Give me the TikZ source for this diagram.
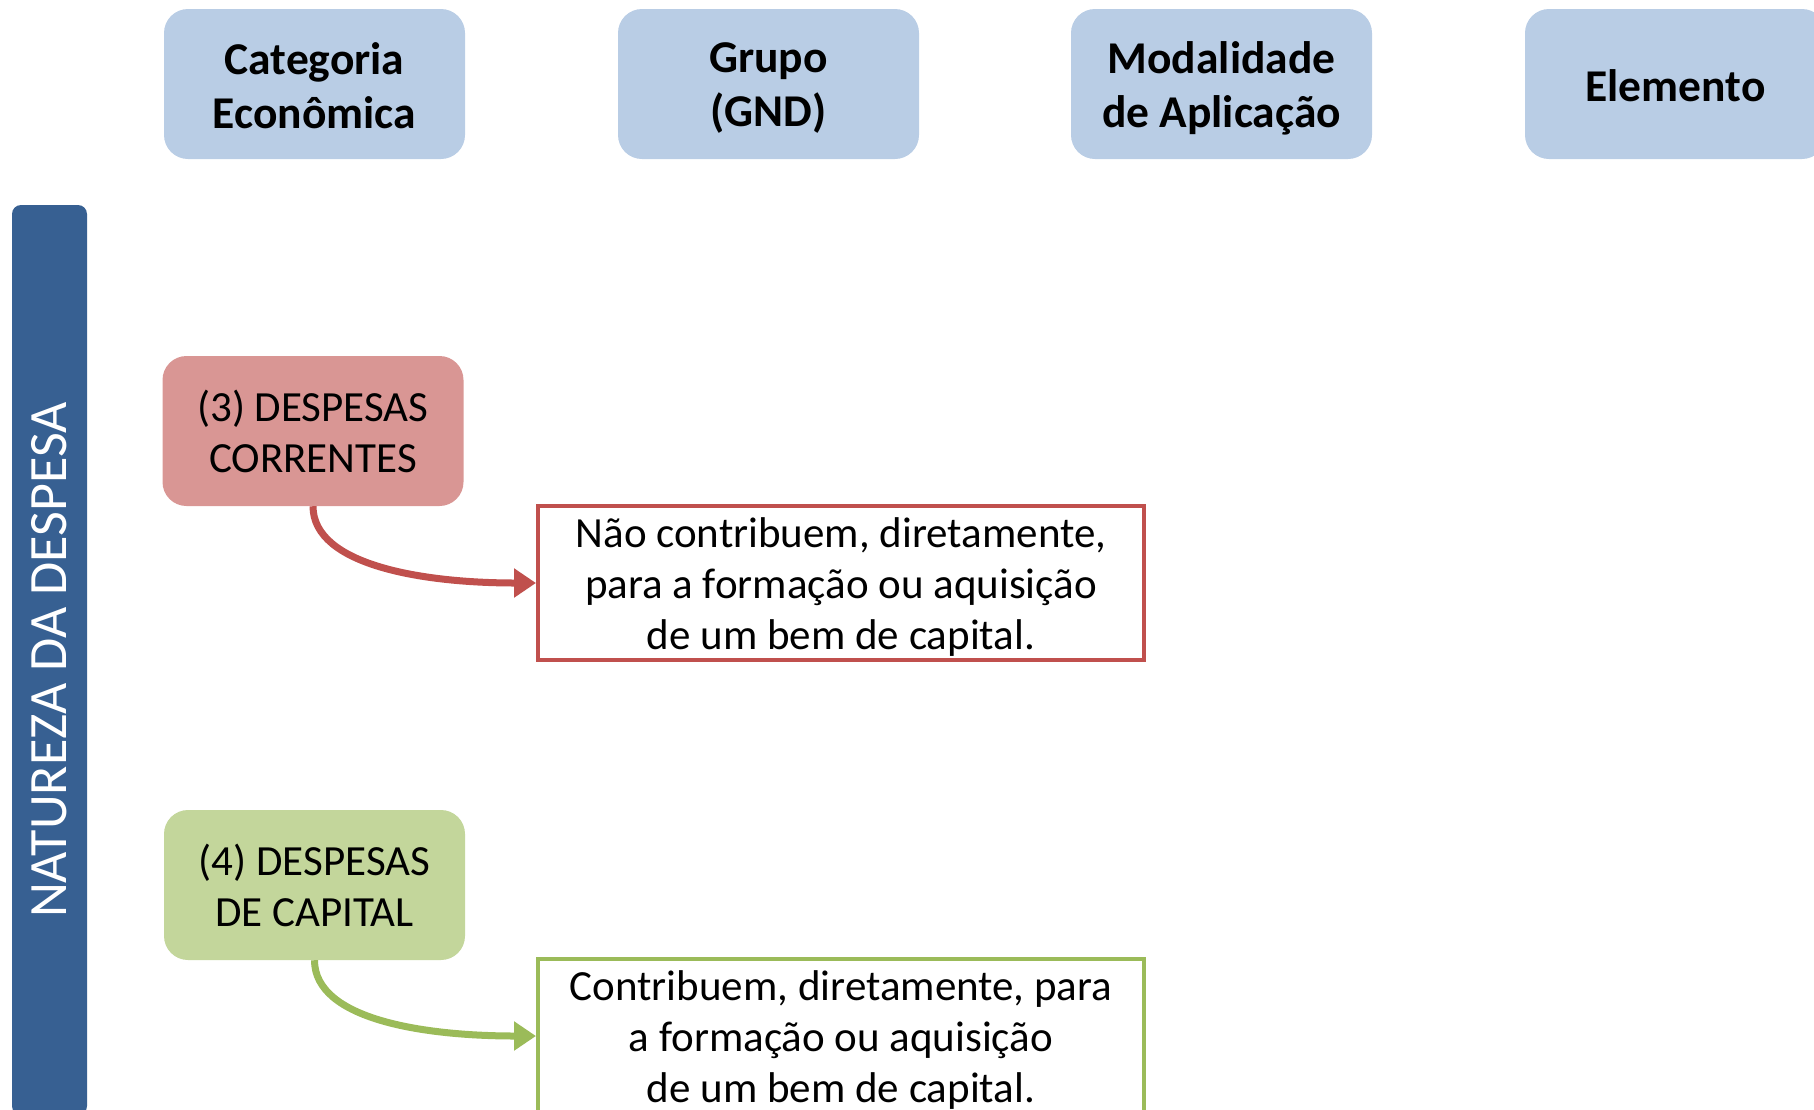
\documentclass[tikz,border=0pt]{standalone}
\usepackage{fontspec}
\setmainfont{Carlito}
\usetikzlibrary{arrows.meta}
\definecolor{hdr}{HTML}{B9CDE5}
\definecolor{barc}{HTML}{376092}
\definecolor{redf}{HTML}{D99694}
\definecolor{redl}{HTML}{C0504D}
\definecolor{grnf}{HTML}{C3D69B}
\definecolor{grnl}{HTML}{9BBB59}
\tikzset{
  hbox/.style={fill=hdr, rounded corners=24pt, minimum width=301pt, minimum height=150pt, align=center, inner sep=0pt},
  htext/.style={font=\fontsize{45.5}{54}\selectfont\bfseries, align=center},
  cbox/.style={rounded corners=24pt, minimum width=301pt, minimum height=150pt, align=center, inner sep=0pt, font=\fontsize{43}{51}\selectfont},
  dbox/.style={draw, line width=4pt, fill=white, minimum width=606pt, minimum height=154pt, inner sep=0pt},
  dtext/.style={align=center, font=\fontsize{43}{51}\selectfont},
  conn/.style={line width=7pt, -{Triangle[length=22pt,width=28pt]}}
}
\begin{document}
\begin{tikzpicture}[x=1pt,y=-1pt]
\useasboundingbox (0,0) rectangle (1814,1109);
\node[hbox] (cat) at (314.5,84) {};
\node[hbox] (grp) at (768.5,84) {};
\node[hbox] (mod) at (1221.5,84) {};
\node[hbox] (ele) at (1675.5,84) {};
\node[htext] (catt) at (314.5,86) {Categoria\\Econômica};
\node[htext] (grpt) at (768.5,88) {Grupo\\(GND)};
\node[htext] (modt) at (1221.5,88) {Modalidade\\de Aplicação};
\node[htext] (elet) at (1675.5,86) {Elemento};
\node[fill=barc, rounded corners=9pt, minimum width=910pt, minimum height=75pt, inner sep=0pt, rotate=90, text=white, font=\fontsize{54}{58}\selectfont] (bar) at (49.5,660) {NATUREZA DA DESPESA};
\node[cbox, fill=redf] (dc) at (313,431) {(3) DESPESAS\\CORRENTES};
\node[dbox, draw=redl] (dcd) at (841,583) {};
\node[dtext] (dcdt) at (841,587) {Não contribuem, diretamente,\\para a formação ou aquisição\\de um bem de capital.};
\node[cbox, fill=grnf] (dk) at (314.5,885) {(4) DESPESAS\\DE CAPITAL};
\node[dbox, draw=grnl] (dkd) at (841,1036) {};
\node[dtext] (dkdt) at (841,1040) {Contribuem, diretamente, para\\a formação ou aquisição\\de um bem de capital.};
\draw[conn, draw=redl] (dc.south) .. controls +(0,60) and +(-110,0) .. (dcd.west);
\draw[conn, draw=grnl] (dk.south) .. controls +(0,60) and +(-110,0) .. (dkd.west);
\end{tikzpicture}
\end{document}
